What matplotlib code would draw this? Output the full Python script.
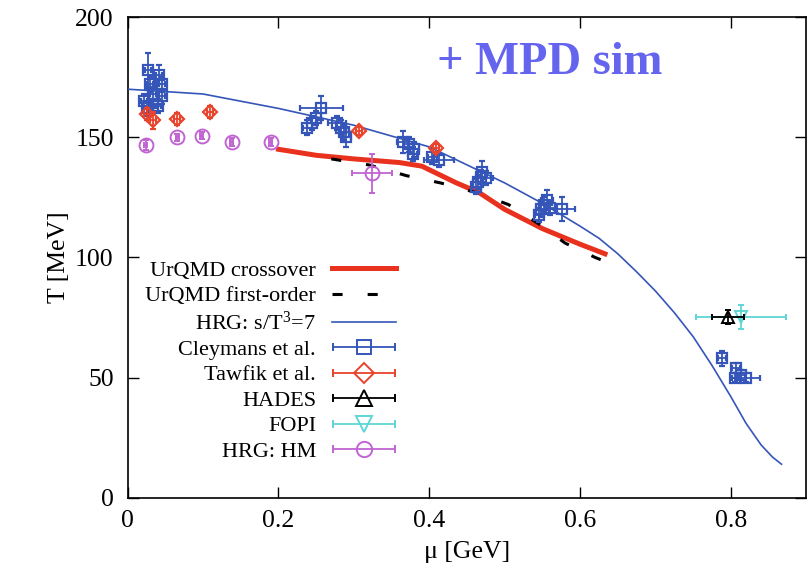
import numpy as np
import matplotlib
matplotlib.use("Agg")
import matplotlib.pyplot as plt
from matplotlib.container import ErrorbarContainer
from matplotlib.legend_handler import HandlerErrorbar

plt.rcParams['font.family'] = ['Liberation Serif', 'DejaVu Serif']
plt.rcParams['mathtext.default'] = 'regular'

# HRG s/T^3 = 7 curve
hrg_mu = [0.0, 0.1, 0.2, 0.3, 0.4, 0.5, 0.55, 0.6, 0.625, 0.65, 0.675, 0.7, 0.725,
          0.75, 0.775, 0.8, 0.82, 0.84, 0.855, 0.867]
hrg_T = [170, 168, 162, 155, 146, 131, 122.5, 113, 108, 101.5, 94, 86, 77,
         67, 55, 42, 31, 22, 17, 14]

# UrQMD crossover
cross_mu = [0.2, 0.25, 0.3, 0.36, 0.39, 0.436, 0.466, 0.5, 0.55, 0.6, 0.633]
cross_T = [145, 142.5, 141, 139.5, 138, 131, 127, 120, 112, 105.5, 101.5]

# UrQMD first-order
first_mu = [0.27, 0.32, 0.37, 0.415, 0.462, 0.505, 0.545, 0.58, 0.62, 0.632]
first_T = [141, 138.5, 134, 131, 127, 122, 114, 106, 100, 98.5]

# Cleymans et al.
cley_mu = [0.027, 0.042, 0.045, 0.030, 0.034, 0.045, 0.022, 0.034, 0.025, 0.040,
           0.257, 0.250, 0.244, 0.238, 0.278, 0.283, 0.287, 0.290,
           0.365, 0.373, 0.380, 0.378, 0.404, 0.413,
           0.470, 0.468, 0.464, 0.462, 0.475,
           0.556, 0.552, 0.548, 0.560, 0.576, 0.546,
           0.788, 0.807, 0.813, 0.820, 0.805]
cley_T = [178, 176, 172, 172, 168, 167, 165, 163, 162, 163,
          162, 158, 156, 154, 156, 154, 152, 150,
          148, 147, 145, 143, 142, 140.5,
          135.5, 133.5, 131.5, 129.5, 133,
          124, 122, 120, 120.5, 120, 117.7,
          58, 54, 51, 50, 50]
cley_xerr = [0.004, 0.004, 0.004, 0.004, 0.004, 0.004, 0.004, 0.004, 0.004, 0.004,
             0.028, 0.006, 0.006, 0.006, 0.012, 0.006, 0.006, 0.006,
             0.008, 0.006, 0.006, 0.006, 0.006, 0.020,
             0.006, 0.006, 0.006, 0.006, 0.010,
             0.008, 0.006, 0.006, 0.006, 0.017, 0.006,
             0.005, 0.005, 0.005, 0.018, 0.005]
cley_yerr = [7, 4, 3, 3, 3, 3, 3, 3, 3, 3,
             5, 3, 3, 3, 3, 3, 3, 4,
             4.5, 3, 3, 3, 3, 3,
             4.5, 3, 3, 3, 3,
             4, 3, 3, 3, 5, 3,
             3, 2, 2, 2, 2]

# Tawfik et al.
taw_mu = [0.026, 0.034, 0.065, 0.109, 0.307, 0.409]
taw_T = [159.5, 157, 157.5, 160.5, 152.6, 145.5]
taw_yerr = [2.5, 3.5, 2.5, 2.5, 1.5, 1.5]

# HADES
hades_mu = [0.796]
hades_T = [75.3]

# FOPI
fopi_mu = [0.813]
fopi_T = [75.3]

# HRG: HM
hm_mu = [0.024, 0.066, 0.098, 0.138, 0.19, 0.324]
hm_T = [146.8, 150, 150.6, 148, 148, 135]
hm_xerr = [0.002, 0.002, 0.002, 0.002, 0.002, 0.026]
hm_yerr = [2, 1.5, 1.5, 1.5, 1.5, 8]

c_red = '#e8321e'
c_blue = '#3556b8'
c_taw = '#e8432c'
c_purple = '#c164d2'
c_cyan = '#5fd6d6'

fig = plt.figure(figsize=(8.08, 5.69), dpi=100)
ax = fig.add_axes([0.158, 0.125, 0.84, 0.845])

ax.plot(hrg_mu, hrg_T, color=c_blue, lw=1.2, zorder=3)
ax.plot(cross_mu, cross_T, color=c_red, lw=3.6, zorder=2)
ax.plot(first_mu, first_T, color='black', lw=2.2, dashes=(3.3, 8.2), zorder=2)

ax.errorbar(cley_mu, cley_T, xerr=cley_xerr, yerr=cley_yerr, fmt='s', ms=7,
            mfc='none', mec=c_blue, mew=1.6, ecolor=c_blue, elinewidth=1.3, capsize=2.5, zorder=4)
ax.errorbar(taw_mu, taw_T, xerr=0.004, yerr=taw_yerr, fmt='D', ms=7,
            mfc='none', mec=c_taw, mew=1.6, ecolor=c_taw, elinewidth=1.3, capsize=2.5, zorder=5)
ax.errorbar(hm_mu, hm_T, xerr=hm_xerr, yerr=hm_yerr, fmt='o', ms=10,
            mfc='none', mec=c_purple, mew=1.4, ecolor=c_purple, elinewidth=1.3, capsize=2.5, zorder=4)
ax.errorbar(fopi_mu, fopi_T, xerr=0.06, yerr=5, fmt='v', ms=9,
            mfc='none', mec=c_cyan, mew=1.4, ecolor=c_cyan, elinewidth=1.3, capsize=2.5, zorder=4)
ax.errorbar(hades_mu, hades_T, xerr=0.021, yerr=3, fmt='^', ms=9,
            mfc='none', mec='black', mew=1.4, ecolor='black', elinewidth=1.3, capsize=2.5, zorder=5)

# legend proxies
h1, = ax.plot([], [], color=c_red, lw=3.6)
h2, = ax.plot([], [], color='black', lw=2.2, dashes=(3.3, 8.2))
h3, = ax.plot([], [], color=c_blue, lw=1.2)
proxies = []
for mk, col, ms in [('s', c_blue, 10), ('D', c_taw, 10), ('^', 'black', 11),
                    ('v', c_cyan, 11), ('o', c_purple, 11)]:
    p = ax.errorbar([np.nan], [np.nan], xerr=[1], fmt=mk, ms=ms, mfc='none', mec=col,
                    mew=1.4, ecolor=col, elinewidth=1.3, capsize=3)
    proxies.append(p)
labels = ['UrQMD crossover', 'UrQMD first-order', 'HRG: s/T$^3$=7', 'Cleymans et al.',
          'Tawfik et al.', 'HADES', 'FOPI', 'HRG: HM']
ax.legend([h1, h2, h3] + proxies, labels, loc='upper right', bbox_to_anchor=(0.402, 0.503),
          frameon=False, markerfirst=False, fontsize=16, handlelength=2.9,
          labelspacing=0.22, borderaxespad=0, borderpad=0.2, handletextpad=0.7,
          handler_map={ErrorbarContainer: HandlerErrorbar(xerr_size=1.4)})

ax.text(0.56, 181, '+ MPD sim', fontsize=33.5, fontweight='bold', color='#6464ee',
        ha='center', va='center')

ax.set_xlim(0, 0.9)
ax.set_ylim(0, 200)
ax.set_xticks([0, 0.2, 0.4, 0.6, 0.8])
ax.set_xticklabels(['0', '0.2', '0.4', '0.6', '0.8'])
ax.set_yticks([0, 50, 100, 150, 200])
ax.tick_params(direction='in', length=8, width=1, labelsize=18.5, top=True, right=True)
ax.tick_params(axis='x', pad=9)
ax.tick_params(axis='y', pad=10)
for s in ax.spines.values():
    s.set_linewidth(1.2)
ax.set_xlabel('μ [GeV]', fontsize=18.5, labelpad=6)
ax.set_ylabel('T [MeV]', fontsize=18.5, labelpad=4)

fig.savefig('out.png', dpi=100)
